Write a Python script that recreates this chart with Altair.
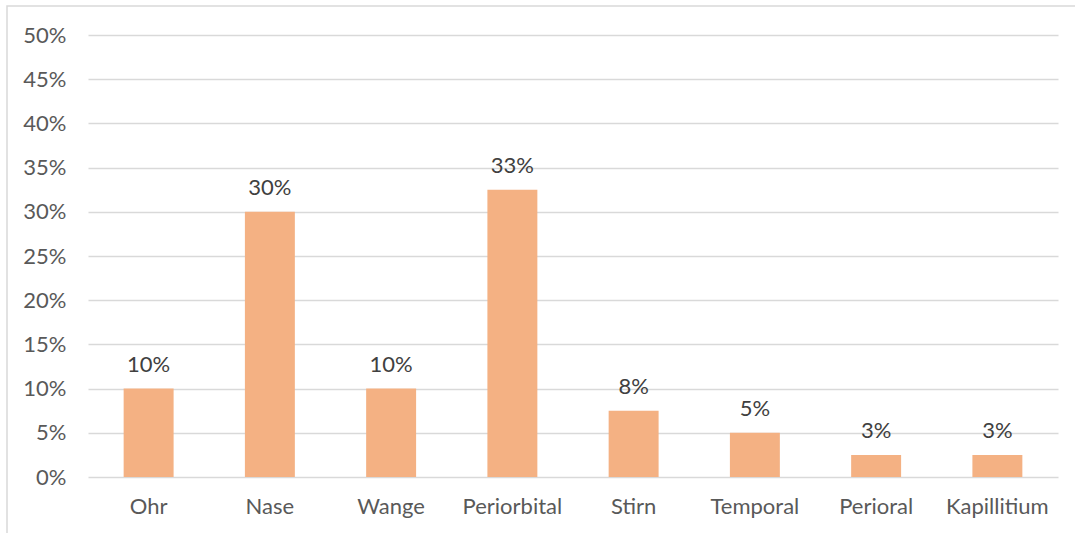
import altair as alt
import pandas as pd

# Lokalisation (Anteil in %)
regions = ["Ohr", "Nase", "Wange", "Periorbital", "Stirn", "Temporal", "Perioral", "Kapillitium"]
shares = [10, 30, 10, 32.5, 7.5, 5, 2.5, 2.5]
y_ticks = [0, 5, 10, 15, 20, 25, 30, 35, 40, 45, 50]

labels = [f"{int(v + 0.5)}%" for v in shares]
df = pd.DataFrame({"region": regions, "share": shares, "label": labels})

FONT = "Lato"
FS = 22
W, H = 970, 442

x_enc = alt.X(
    "region:N",
    sort=regions,
    title=None,
    scale=alt.Scale(paddingInner=0.588, paddingOuter=0.294),
    axis=alt.Axis(
        labelAngle=0, domain=False, ticks=False, labelPadding=19,
        labelFont=FONT, labelFontSize=FS, labelColor="#595959",
    ),
)
y_enc = alt.Y(
    "share:Q",
    title=None,
    scale=alt.Scale(domain=[0, 50], nice=False),
    axis=alt.Axis(
        values=y_ticks, labelExpr="datum.value + '%'", domain=False, ticks=False,
        labelPadding=22, gridColor="#d9d9d9", gridWidth=1.3,
        labelFont=FONT, labelFontSize=FS, labelColor="#595959",
    ),
)

bars = alt.Chart(df).mark_bar(color="#F4B183").encode(x=x_enc, y=y_enc)

text = alt.Chart(df).mark_text(
    baseline="alphabetic", dy=-17, font=FONT, fontSize=FS, color="#404040"
).encode(x=alt.X("region:N", sort=regions), y="share:Q", text="label:N")

frame = alt.Chart(pd.DataFrame({"k": [0]})).mark_rect(
    fill=None, stroke="#d9d9d9", strokeWidth=1.5
).encode(
    x=alt.value(-81), x2=alt.value(1100), y=alt.value(-29), y2=alt.value(600)
)

chart = (
    alt.layer(bars, text, frame)
    .properties(
        width=W, height=H,
        autosize=alt.AutoSizeParams(type="none"),
        padding={"left": 88, "top": 35, "right": 17, "bottom": 56},
        background="white",
    )
    .configure_view(stroke=None)
)

chart.save("out.html", embed_options={"renderer": "svg", "actions": False})
